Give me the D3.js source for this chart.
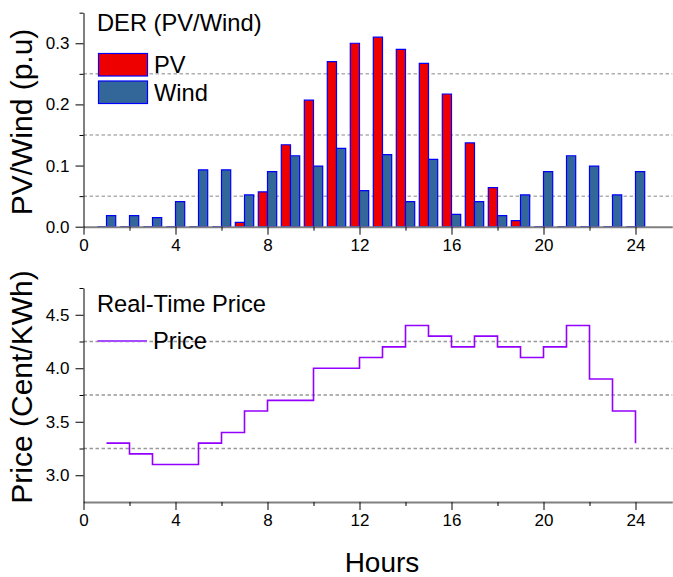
<!DOCTYPE html>
<html>
<head>
<meta charset="utf-8">
<script src="https://cdn.jsdelivr.net/npm/d3@7"></script>
<style>
  html, body { margin: 0; padding: 0; background: #fff; }
  svg { display: block; font-family: "Liberation Sans", Arial, sans-serif; }
</style>
</head>
<body>
<svg id="chart" width="673" height="577"></svg>
<script>
// ---- data ----
const hours = [1,2,3,4,5,6,7,8,9,10,11,12,13,14,15,16,17,18,19,20,21,22,23,24];
const pv    = [0,0,0,0,0,0,0.007,0.057,0.134,0.207,0.27,0.30,0.31,0.29,0.267,0.217,0.137,0.064,0.01,0,0,0,0,0];
const wind  = [0.018,0.018,0.015,0.041,0.093,0.093,0.052,0.09,0.116,0.099,0.128,0.059,0.118,0.041,0.11,0.02,0.041,0.018,0.052,0.09,0.116,0.099,0.052,0.09];
const price = [3.3,3.2,3.1,3.1,3.3,3.4,3.6,3.7,3.7,4.0,4.0,4.1,4.2,4.4,4.3,4.2,4.3,4.2,4.1,4.2,4.4,3.9,3.6,3.3];
const xTicks = [0,4,8,12,16,20,24];
const xMinor = [2,6,10,14,18,22];
const derTicks = [0,0.1,0.2,0.3];
const derMinor = [0.05,0.15,0.25,0.35];
const derGrid = [0.05,0.15,0.25];
const priceTicks = [3.0,3.5,4.0,4.5];
const priceMinor = [3.25,3.75,4.25,4.75];
const priceGrid = [3.25,3.75,4.25];

const svg = d3.select("#chart");
const FONT = '"Liberation Sans", Arial, sans-serif';
const LEG = 23.7;

const x = d3.scaleLinear().domain([0, 25.6]).range([83.5, 672.3]);
const yTop = d3.scaleLinear().domain([0, 0.35]).range([226.7, 12.7]);
const yBot = d3.scaleLinear().domain([2.75, 4.75]).range([502, 288]);

function grid(g, y, vals, color) {
  g.selectAll("line.grid").data(vals).join("line")
    .attr("class", "grid")
    .attr("x1", x(0)).attr("x2", x(25.6))
    .attr("y1", d => y(d)).attr("y2", d => y(d))
    .attr("stroke", color).attr("stroke-width", 1.5)
    .attr("stroke-dasharray", "3.5,2.5");
}

function axes(g, y, yMajor, yMinorVals, yBase) {
  const xa = g.append("g").attr("transform", `translate(0,${yBase})`)
    .call(d3.axisBottom(x).tickValues(xTicks).tickSize(8).tickSizeOuter(0).tickPadding(4));
  xa.select(".domain").attr("stroke", "#808080").attr("stroke-width", 2);
  xa.selectAll(".tick line").attr("stroke", "#000");
  xa.selectAll(".tick text").attr("font-size", 17).attr("font-family", FONT).attr("fill", "#000");
  g.append("g").attr("transform", `translate(0,${yBase})`)
    .call(d3.axisBottom(x).tickValues(xMinor).tickSize(4).tickFormat(""))
    .call(s => s.select(".domain").remove());
  const ya = g.append("g").attr("transform", `translate(${x(0)},0)`)
    .call(d3.axisLeft(y).tickValues(yMajor).tickSize(8).tickSizeOuter(0).tickPadding(6).tickFormat(d3.format(".1f")));
  ya.select(".domain").attr("stroke", "#000").attr("stroke-width", 1);
  ya.selectAll(".tick text").attr("font-size", 17).attr("font-family", FONT).attr("fill", "#000");
  g.append("g").attr("transform", `translate(${x(0)},0)`)
    .call(d3.axisLeft(y).tickValues(yMinorVals).tickSize(4).tickFormat(""))
    .call(s => s.select(".domain").remove());
}

// ---------- top panel ----------
const topG = svg.append("g");
grid(topG, yTop, derGrid, "#b0b0b0");

const barW = 0.4;
function barPath(x0, x1, v) {
  const y0 = yTop(0), y1 = yTop(v);
  return `M${x(x0)},${y0}V${y1}H${x(x1)}V${y0}Z`;
}
topG.selectAll("path.pv").data(hours).join("path")
  .attr("class", "pv")
  .attr("d", (h, i) => barPath(h - barW, h, pv[i]))
  .attr("fill", "#ee0000").attr("stroke", "#0000ff").attr("stroke-width", 1.2);
topG.selectAll("path.wind").data(hours).join("path")
  .attr("class", "wind")
  .attr("d", (h, i) => barPath(h, h + barW, wind[i]))
  .attr("fill", "#336699").attr("stroke", "#0000ff").attr("stroke-width", 1.2);

axes(topG, yTop, derTicks, derMinor, yTop(0));

topG.append("text").attr("x", 97).attr("y", 31).attr("font-size", LEG).attr("font-family", FONT).text("DER (PV/Wind)");
topG.append("rect").attr("x", 98.5).attr("y", 53.5).attr("width", 49).attr("height", 22.5)
  .attr("fill", "#ee0000").attr("stroke", "#0000ff").attr("stroke-width", 1.2);
topG.append("rect").attr("x", 98.5).attr("y", 81).attr("width", 49).attr("height", 22.5)
  .attr("fill", "#336699").attr("stroke", "#0000ff").attr("stroke-width", 1.2);
topG.append("text").attr("x", 154).attr("y", 73).attr("font-size", LEG).attr("font-family", FONT).text("PV");
topG.append("text").attr("x", 154).attr("y", 101).attr("font-size", LEG).attr("font-family", FONT).text("Wind");

svg.append("text")
  .attr("transform", `translate(32,122) rotate(-90)`)
  .attr("text-anchor", "middle").attr("font-size", 30).attr("font-family", FONT)
  .text("PV/Wind (p.u)");

// ---------- bottom panel ----------
const botG = svg.append("g");
grid(botG, yBot, priceGrid, "#999999");

const priceLine = d3.line().x((d, i) => x(hours[i])).y(d => yBot(d)).curve(d3.curveStepAfter);
botG.append("path").datum(price).attr("d", priceLine)
  .attr("fill", "none").attr("stroke", "#9400ff").attr("stroke-width", 1.6);

axes(botG, yBot, priceTicks, priceMinor, yBot(2.75));

botG.append("text").attr("x", 97).attr("y", 311.5).attr("font-size", LEG).attr("font-family", FONT).text("Real-Time Price");
botG.append("line").attr("x1", 97.5).attr("x2", 147).attr("y1", 341).attr("y2", 341)
  .attr("stroke", "#a64dff").attr("stroke-width", 1.8);
botG.append("text").attr("x", 153).attr("y", 349).attr("font-size", LEG).attr("font-family", FONT).text("Price");

svg.append("text")
  .attr("transform", `translate(32,387) rotate(-90)`)
  .attr("text-anchor", "middle").attr("font-size", 30).attr("font-family", FONT)
  .text("Price (Cent/KWh)");

svg.append("text").attr("x", 382).attr("y", 572).attr("text-anchor", "middle")
  .attr("font-size", 28).attr("font-family", FONT).text("Hours");
</script>
</body>
</html>
